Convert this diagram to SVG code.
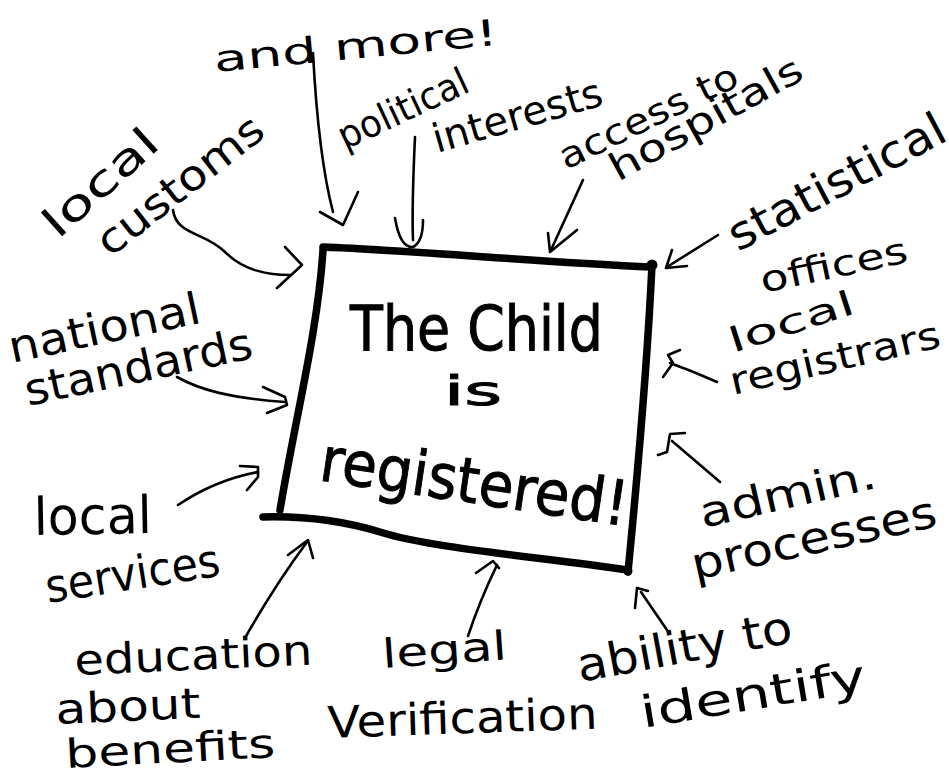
<svg xmlns="http://www.w3.org/2000/svg" width="949" height="777" viewBox="0 0 949 777">
<style>
.lbl{font-family:"DejaVu Sans","Liberation Sans",sans-serif;fill:#000;}
.big{font-family:"DejaVu Sans","Liberation Sans",sans-serif;fill:#000;stroke:#000;stroke-width:1;}
.ink{fill:none;stroke:#000;stroke-width:2.6;stroke-linecap:round;stroke-linejoin:round;}
.box{fill:none;stroke:#000;stroke-width:7.5;stroke-linecap:round;stroke-linejoin:round;}
</style>
<rect width="949" height="777" fill="#fff"/>
<g id="center">
<path class="box" d="M323,247 C420,251 540,262 651,267"/>
<path class="box" d="M652,265 C648,350 638,470 628,572"/>
<path class="box" d="M263,517 C300,516 340,520 380,532 C430,548 540,557 628,570"/>
<path class="box" d="M323,250 C318,330 295,420 280,510"/>
<circle cx="652" cy="265" r="5.5"/>
<circle cx="628" cy="571" r="4.5"/>
<text class="big" x="350" y="350" font-size="62" textLength="253" lengthAdjust="spacingAndGlyphs">The Child</text>
<text class="big" x="444" y="405" font-size="40" textLength="58" lengthAdjust="spacingAndGlyphs">is</text>
<text class="big" transform="translate(318,480) rotate(8.5)" font-size="62" textLength="310" lengthAdjust="spacingAndGlyphs">registered!</text>
</g>
<g id="local-customs">
<text class="lbl" transform="translate(58,240) rotate(-42)" font-size="42" textLength="140" lengthAdjust="spacingAndGlyphs">local</text>
<text class="lbl" transform="translate(110,258) rotate(-38)" font-size="42" textLength="200" lengthAdjust="spacingAndGlyphs">customs</text>
</g>
<g id="and-more">
<text class="lbl" transform="translate(215,72) rotate(-5.5)" font-size="36" textLength="285" lengthAdjust="spacingAndGlyphs">and more!</text>
</g>
<g id="political-interests">
<text class="lbl" transform="translate(345,150) rotate(-25)" font-size="38" textLength="140" lengthAdjust="spacingAndGlyphs">political</text>
<text class="lbl" transform="translate(437,153) rotate(-16)" font-size="40" textLength="175" lengthAdjust="spacingAndGlyphs">interests</text>
</g>
<g id="access-hospitals">
<text class="lbl" transform="translate(566,170) rotate(-26)" font-size="36" textLength="195" lengthAdjust="spacingAndGlyphs">access to</text>
<text class="lbl" transform="translate(618,182) rotate(-29)" font-size="38" textLength="215" lengthAdjust="spacingAndGlyphs">hospitals</text>
</g>
<g id="statistical-offices">
<text class="lbl" transform="translate(738,252) rotate(-28)" font-size="46" textLength="240" lengthAdjust="spacingAndGlyphs">statistical</text>
<text class="lbl" transform="translate(763,293) rotate(-12)" font-size="36" textLength="150" lengthAdjust="spacingAndGlyphs">offices</text>
</g>
<g id="local-registrars">
<text class="lbl" transform="translate(733,353) rotate(-18)" font-size="34" textLength="130" lengthAdjust="spacingAndGlyphs">local</text>
<text class="lbl" transform="translate(733,395) rotate(-13)" font-size="38" textLength="215" lengthAdjust="spacingAndGlyphs">registrars</text>
</g>
<g id="admin-processes">
<text class="lbl" transform="translate(703,528) rotate(-13)" font-size="42" textLength="180" lengthAdjust="spacingAndGlyphs">admin.</text>
<text class="lbl" transform="translate(695,580) rotate(-12.5)" font-size="44" textLength="250" lengthAdjust="spacingAndGlyphs">processes</text>
</g>
<g id="ability-identify">
<text class="lbl" transform="translate(580,682) rotate(-10.5)" font-size="46" textLength="218" lengthAdjust="spacingAndGlyphs">ability to</text>
<text class="lbl" transform="translate(643,728) rotate(-9.5)" font-size="44" textLength="228" lengthAdjust="spacingAndGlyphs">identify</text>
</g>
<g id="legal-verification">
<text class="lbl" transform="translate(383,668) rotate(-4)" font-size="40" textLength="125" lengthAdjust="spacingAndGlyphs">legal</text>
<text class="lbl" transform="translate(328,738) rotate(-2)" font-size="44" textLength="270" lengthAdjust="spacingAndGlyphs">Verification</text>
</g>
<g id="education-benefits">
<text class="lbl" transform="translate(75,675) rotate(-2.5)" font-size="42" textLength="238" lengthAdjust="spacingAndGlyphs">education</text>
<text class="lbl" transform="translate(56,724) rotate(-2.5)" font-size="42" textLength="145" lengthAdjust="spacingAndGlyphs">about</text>
<text class="lbl" transform="translate(66,768) rotate(-3)" font-size="40" textLength="210" lengthAdjust="spacingAndGlyphs">benefits</text>
</g>
<g id="local-services">
<text class="lbl" transform="translate(34,535) rotate(-1)" font-size="52" textLength="118" lengthAdjust="spacingAndGlyphs">local</text>
<text class="lbl" transform="translate(48,603) rotate(-9)" font-size="46" textLength="176" lengthAdjust="spacingAndGlyphs">services</text>
</g>
<g id="national-standards">
<text class="lbl" transform="translate(12,363) rotate(-12)" font-size="44" textLength="195" lengthAdjust="spacingAndGlyphs">national</text>
<text class="lbl" transform="translate(28,406) rotate(-12)" font-size="44" textLength="232" lengthAdjust="spacingAndGlyphs">standards</text>
</g>
<g id="connectors">
<path class="ink" d="M173,210 C176,235 205,232 225,252 S270,275 290,275"/>
<path class="ink" d="M285,247 L302,265 L277,288"/>
<path class="ink" d="M313,53 C316,110 322,170 333,212"/>
<path class="ink" d="M320,212 L343,225 L358,192"/>
<path class="ink" d="M415,137 C413,180 412,215 413,240"/>
<path class="ink" d="M395,218 Q400,248 413,247 Q423,242 423,220"/>
<path class="ink" d="M583,180 L551,250"/>
<path class="ink" d="M548,233 L550,252 L577,230"/>
<path class="ink" d="M718,235 L667,267"/>
<path class="ink" d="M672,250 L666,268 L687,266"/>
<path class="ink" d="M717,382 Q695,372 670,363"/>
<path class="ink" d="M680,350 L668,355 L673,363 L663,377"/>
<path class="ink" d="M720,482 Q700,465 672,441"/>
<path class="ink" d="M658,455 L667,452 L670,434 L685,433"/>
<path class="ink" d="M667,630 L641,592"/>
<path class="ink" d="M635,608 L637,588 L648,591"/>
<path class="ink" d="M468,636 Q480,600 497,565"/>
<path class="ink" d="M476,573 L493,561 L499,568"/>
<path class="ink" d="M245,638 Q275,585 307,542"/>
<path class="ink" d="M288,555 L308,540 L313,558"/>
<path class="ink" d="M178,505 Q215,480 258,472"/>
<path class="ink" d="M240,466 L258,467 L258,477 L247,490"/>
<path class="ink" d="M177,377 C200,390 230,398 285,402"/>
<path class="ink" d="M263,387 L285,397 L287,405 L267,413"/>
</g>
</svg>
